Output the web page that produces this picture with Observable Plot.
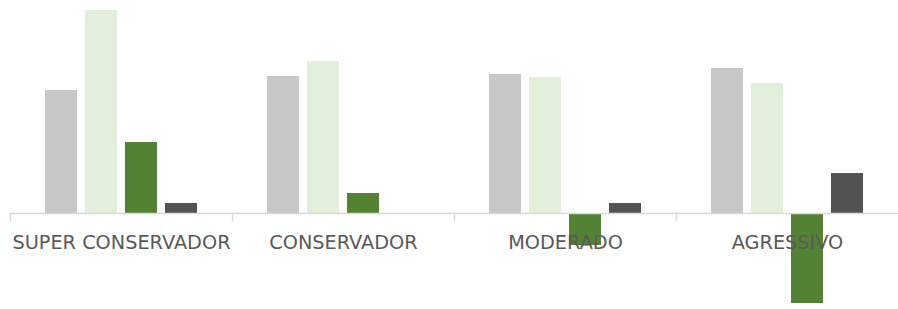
<!DOCTYPE html>
<html>
<head>
<meta charset="utf-8">
<script src="https://cdn.jsdelivr.net/npm/d3@7"></script>
<script src="https://cdn.jsdelivr.net/npm/@observablehq/plot@0.6"></script>
<style>
  html, body { margin: 0; padding: 0; background: #fff; }
</style>
</head>
<body>
<div id="chart"></div>
<script>
// Categories and series
const categories = ["SUPER CONSERVADOR", "CONSERVADOR", "MODERADO", "AGRESSIVO"];
const seriesNames = ["Série 1", "Série 2", "Série 3", "Série 4"];
const seriesColors = ["#c8c8c8", "#e2efda", "#548235", "#525252"];
// Values per series (one per category)
const serie1 = [12.3, 13.7, 13.9, 14.5];
const serie2 = [20.3, 15.2, 13.6, 13.0];
const serie3 = [7.1, 2.0, -3.2, -9.0];
const serie4 = [1.0, 0, 1.0, 4.0];

const allSeries = [serie1, serie2, serie3, serie4];
const data = [];
categories.forEach((c, i) => {
  allSeries.forEach((s, j) => {
    data.push({category: c, series: seriesNames[j], value: s[i]});
  });
});

const chart = Plot.plot({
  width: 898,
  height: 309,
  marginTop: 0,
  marginBottom: 96,
  marginLeft: 10,
  marginRight: 0,
  style: {fontFamily: "'DejaVu Sans', sans-serif", color: "#595959", background: "#fff"},
  fx: {domain: categories, padding: 0, label: null},
  x: {domain: seriesNames, paddingInner: 0.2, paddingOuter: 0.834, axis: null},
  y: {domain: [0, 21.3], axis: null},
  color: {domain: seriesNames, range: seriesColors},
  marks: [
    Plot.barY(data, {fx: "category", x: "series", y: "value", fill: "series"}),
    Plot.ruleY([0], {stroke: "#d9d9d9", strokeWidth: 1.5}),
    Plot.frame({anchor: "left", stroke: "#d9d9d9", strokeWidth: 1.5, insetTop: 213, insetBottom: -7}),
    Plot.axisFx({anchor: "bottom", tickSize: 0, tickPadding: 21.5, fontSize: 19.3, fill: "#595959", label: null})
  ]
});
document.getElementById("chart").appendChild(chart);
</script>
</body>
</html>
